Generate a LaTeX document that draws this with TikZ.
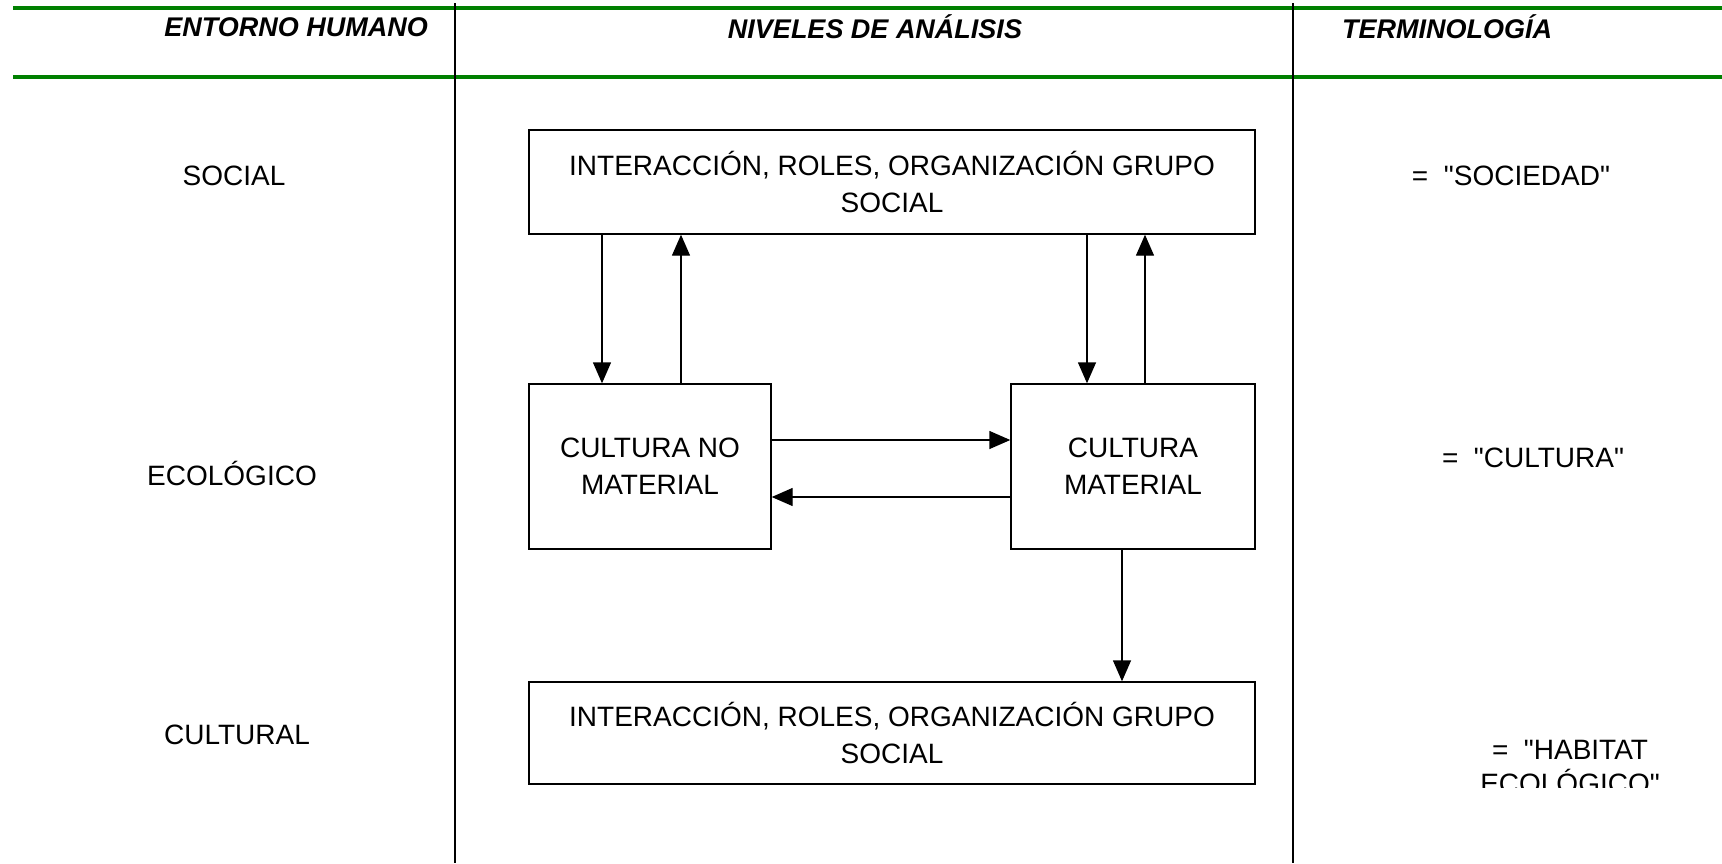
\documentclass[tikz,border=0pt]{standalone}
\usepackage{fontspec}
\setmainfont{Liberation Sans}
\usepackage{tikz}
\usetikzlibrary{arrows.meta}
\usetikzlibrary{positioning}

\definecolor{verde}{RGB}{0,128,0}

\begin{document}
\begin{tikzpicture}[x=1pt,y=-1pt,
        caja/.style={draw,line width=1.4pt,align=center,inner sep=0pt,font=\fontsize{28}{37}\selectfont},
        etiq/.style={align=center,inner sep=0pt,font=\fontsize{28}{34}\selectfont},
        cabecera/.style={inner sep=0pt,font=\fontsize{27}{32}\selectfont\bfseries\itshape},
        flecha/.style={line width=1.4pt,-{Triangle[length=21pt,width=18pt]}},
        regla/.style={line width=1.4pt}]
        \useasboundingbox (0,0) rectangle (1722,863);
        \draw[verde,line width=3.5pt] (13,8) -- (1722,8);
        \draw[verde,line width=3.5pt] (13,77) -- (1722,77);
        \draw[regla] (455,3) -- (455,863);
        \draw[regla] (1293,3) -- (1293,863);

        \node[cabecera,anchor=east] (hent) at (428,27) {ENTORNO HUMANO};
        \node[cabecera] (hniv) at (875,27) {NIVELES DE ANÁLISIS};
        \node[cabecera,anchor=west] (hter) at (1342,27) {TERMINOLOGÍA};

        \node[etiq] (lsoc) at (234,176) {SOCIAL};
        \node[etiq] (leco) at (232,473) {ECOLÓGICO};
        \node[etiq] (lcul) at (237,735) {CULTURAL};

        \node[caja,minimum width=726pt,minimum height=104pt] (sup) at (892,182) {INTERACCIÓN, ROLES, ORGANIZACIÓN GRUPO\\SOCIAL};
        \node[caja,minimum width=242pt,minimum height=165pt] (nomat) at (650,466.5) {CULTURA NO\\MATERIAL};
        \node[caja,minimum width=244pt,minimum height=165pt] (mat) at (1133,466.5) {CULTURA\\MATERIAL};
        \node[caja,minimum width=726pt,minimum height=102pt] (inf) at (892,733) {INTERACCIÓN, ROLES, ORGANIZACIÓN GRUPO\\SOCIAL};

        \draw[flecha] (sup.south -| 602,0) -- (nomat.north -| 602,0);
        \draw[flecha] (nomat.north -| 681,0) -- (sup.south -| 681,0);
        \draw[flecha] (sup.south -| 1087,0) -- (mat.north -| 1087,0);
        \draw[flecha] (mat.north -| 1145,0) -- (sup.south -| 1145,0);
        \draw[flecha] (nomat.east |- 0,440) -- (mat.west |- 0,440);
        \draw[flecha] (mat.west |- 0,497) -- (nomat.east |- 0,497);
        \draw[flecha] (mat.south -| 1122,0) -- (inf.north -| 1122,0);

        \node[etiq] (tsoc) at (1511,176) {=~~\textquotedbl SOCIEDAD\textquotedbl};
        \node[etiq] (tcul) at (1533,458) {=~~\textquotedbl CULTURA\textquotedbl};
        \begin{scope}
            \clip (1300,700) rectangle (1722,787);
            \node[etiq] (thab) at (1570,767) {=~~\textquotedbl HABITAT\\ECOLÓGICO\textquotedbl};
        \end{scope}
\end{tikzpicture}
\end{document}
